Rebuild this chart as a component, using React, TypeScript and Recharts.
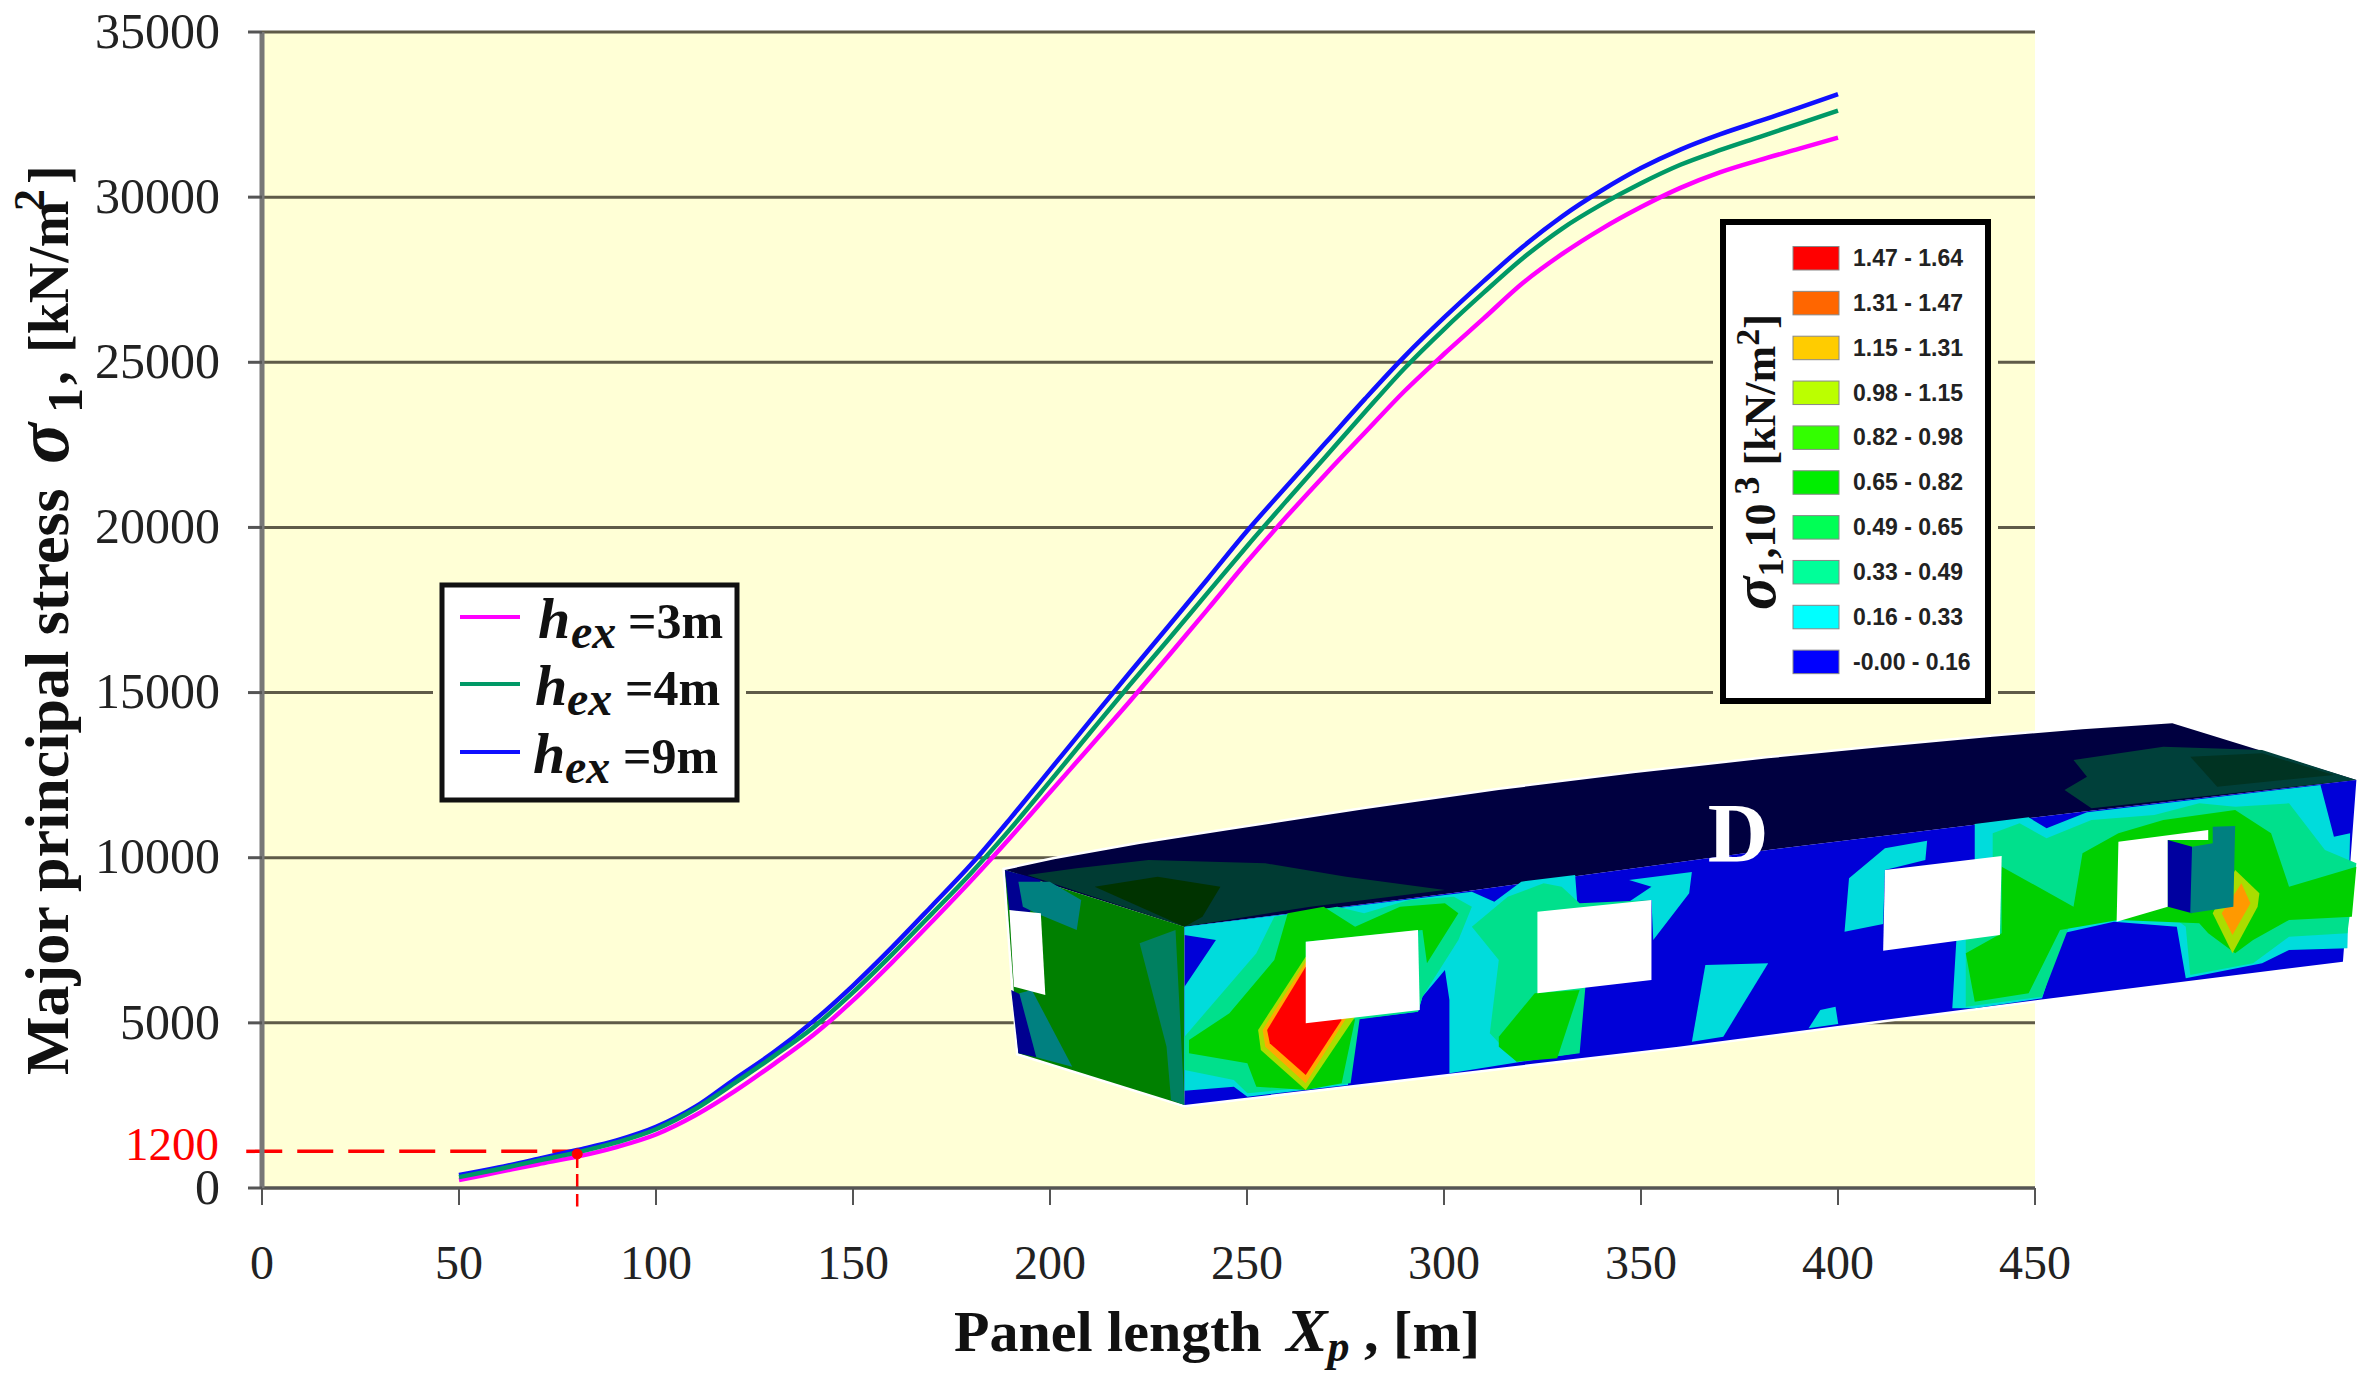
import { LineChart, Line, XAxis, YAxis, CartesianGrid, ReferenceLine, ReferenceDot } from 'recharts';

const panelLength = [50, 60, 70, 80, 90, 100, 110, 120, 130, 140, 150, 160, 170, 180, 190, 200, 210, 220, 230, 240, 250, 260, 270, 280, 290, 300, 310, 320, 330, 340, 350, 360, 370, 380, 390, 400];
const stressH3 = [240, 480, 720, 950, 1240, 1620, 2200, 2930, 3760, 4640, 5680, 6840, 8060, 9310, 10620, 11980, 13340, 14700, 16100, 17520, 18960, 20320, 21620, 22880, 24130, 25250, 26320, 27400, 28280, 29040, 29700, 30280, 30750, 31120, 31460, 31800];
const stressH4 = [330, 570, 830, 1080, 1380, 1780, 2390, 3180, 4000, 4870, 5920, 7080, 8300, 9540, 10880, 12310, 13760, 15200, 16600, 18020, 19430, 20800, 22150, 23500, 24820, 26000, 27100, 28150, 29050, 29780, 30420, 30980, 31420, 31820, 32220, 32620];
const stressH9 = [390, 620, 880, 1150, 1440, 1850, 2460, 3300, 4120, 5060, 6130, 7300, 8540, 9800, 11200, 12660, 14120, 15570, 17000, 18440, 19890, 21240, 22570, 23900, 25180, 26350, 27450, 28500, 29420, 30200, 30880, 31440, 31900, 32300, 32700, 33120];
const xTicks = [0, 50, 100, 150, 200, 250, 300, 350, 400, 450];
const yTicks = [0, 5000, 10000, 15000, 20000, 25000, 30000, 35000];

const contourRanges = ['1.47 - 1.64', '1.31 - 1.47', '1.15 - 1.31', '0.98 - 1.15', '0.82 - 0.98', '0.65 - 0.82', '0.49 - 0.65', '0.33 - 0.49', '0.16 - 0.33', '-0.00 - 0.16'];
const contourColors = ['#ff0000', '#ff6600', '#ffcc00', '#bbff00', '#33ff00', '#00ee00', '#00ff55', '#00ff99', '#00ffff', '#0000ff'];

const data = panelLength.map((x, i) => ({ x, h3: stressH3[i], h4: stressH4[i], h9: stressH9[i] }));

const MAGENTA = '#ff00ff';
const GREEN = '#009966';
const BLUE = '#1010ff';
const PLOT_BG = '#ffffd6';
const SERIF = '"Liberation Serif", serif';

// the 3D panel inset, points are in the crop space of the picture and get scaled in the group below
const topEdge = '50,510 105,478 200,432 300,390 450,328 600,270 750,220 900,175 1030,140 1150,110 1250,88 1350,70';
const panelSilhouette = `${topEdge} 1555,240 1540,785 1200,900 800,1040 250,1215 65,1060`;
const panelShapes: [string, string][] = [
  // top face
  ['#000040', `${topEdge} 1555,240 1250,335 900,450 560,575 250,680`],
  ['#003b33', '75,525 130,505 210,480 340,490 430,530 540,570 390,620 250,680'],
  ['#003300', '150,560 220,530 290,560 270,650 250,680'],
  ['#00403a', '1240,180 1340,140 1450,150 1555,240 1380,290 1260,325 1230,270 1255,230'],
  ['#003322', '1370,170 1450,160 1530,225 1400,260'],
  // left face
  ['#008000', '50,510 250,680 250,1215 65,1060'],
  ['#000090', '50,510 90,540 75,660 55,630'],
  ['#008080', '65,545 100,545 135,600 130,690 85,640 70,620'],
  ['#000090', '57,870 65,1060 85,1072 72,890'],
  ['#008080', '66,880 80,870 125,1100 85,1072'],
  ['#008060', '200,730 240,690 250,1215 235,1200 230,1040'],
  ['#ffffff', '55,630 90,640 95,885 60,860'],
  // front face
  ['#0000d8', '250,680 560,575 900,450 1250,335 1555,240 1540,785 1200,900 800,1040 250,1215'],
  ['#00dcdc', '250,680 570,575 595,605 625,545 685,525 690,700 685,1060 545,1120 545,900 540,810 515,890 510,935 440,958 432,1155 320,1190 305,1160 250,1172 250,860 285,720 250,705'],
  ['#00dcdc', '745,540 815,516 812,580 772,720 770,600 745,605 770,560'],
  ['#00dcdc', '830,795 900,790 850,1010 815,1025'],
  ['#00dcdc', '958,930 975,920 978,972 945,985'],
  ['#00dcdc', '985,695 990,535 1030,445 1077,422 1075,480 1030,510 1028,672'],
  ['#00dcdc', '1105,925 1110,700 1130,680 1130,372 1190,352 1210,385 1255,337 1515,255 1530,410 1548,400 1545,745 1480,750 1450,790 1365,835 1355,680 1285,665 1228,700 1205,895 1130,925'],
  ['#00e08c', '250,1010 330,760 350,650 420,620 450,640 500,600 550,590 570,620 555,720 515,890 510,935 445,958 435,1150 320,1180 305,1140 250,1110'],
  ['#00e08c', '590,1000 600,780 570,680 610,590 650,550 670,560 690,610 770,600 700,750 690,1060 620,1085'],
  ['#00e08c', '1120,920 1120,700 1150,660 1150,400 1180,370 1210,415 1260,360 1330,345 1380,310 1420,320 1480,310 1520,450 1555,490 1545,700 1480,710 1440,790 1370,825 1365,680 1350,650 1280,660 1235,680 1205,890'],
  ['#00d000', '255,1020 300,940 350,780 365,640 405,620 440,680 490,620 540,610 555,640 520,790 515,690 385,725 385,970 440,958 425,1150 385,1170 330,1160 320,1090 255,1060'],
  ['#00d000', '600,1010 640,880 690,870 665,1075 620,1085 600,1040'],
  ['#00d000', '1130,905 1120,760 1160,700 1160,500 1240,620 1250,460 1290,400 1340,360 1420,330 1460,400 1480,560 1555,500 1550,650 1480,660 1440,720 1420,760 1390,700 1380,670 1290,660 1225,690 1190,880'],
  // hot spots
  ['#aadd00', '332,990 385,770 440,950 385,1170 335,1050'],
  ['#ffaa00', '337,990 385,785 430,955 385,1150 340,1040'],
  ['#ff0000', '342,990 385,800 425,960 385,1125 345,1030'],
  ['#aadd00', '1395,640 1420,510 1447,580 1445,620 1417,760'],
  ['#ff9900', '1405,640 1427,550 1437,610 1417,705'],
  // windows
  ['#ffffff', '385,725 510,690 512,930 385,970'],
  ['#ffffff', '643,635 770,600 770,840 643,880'],
  ['#ffffff', '1030,510 1160,468 1158,705 1028,752'],
  ['#ffffff', '1290,425 1390,390 1390,420 1345,420 1345,620 1288,665'],
  ['#0000a0', '1345,420 1372,440 1372,640 1345,620'],
  ['#008080', '1372,440 1395,430 1395,380 1420,378 1418,620 1370,640'],
];

const Panel3D = () => (
  <g transform="translate(960,700) scale(0.898,0.3333)">
    <polygon points={panelSilhouette} fill="#fff" stroke="#fff" strokeWidth={5} vectorEffect="non-scaling-stroke" />
    {panelShapes.map(([fill, points], i) => (
      <polygon key={i} points={points} fill={fill} />
    ))}
  </g>
);

const legendRows = [
  { color: MAGENTA, lineY: 617, label: '=3m', hX: 538, base: 638, exX: 571, textX: 628 },
  { color: GREEN, lineY: 684, label: '=4m', hX: 535, base: 705, exX: 567, textX: 625 },
  { color: BLUE, lineY: 752, label: '=9m', hX: 533, base: 773, exX: 565, textX: 623 },
];

const Overlay = () => (
  <svg width={2368} height={1390} style={{ position: 'absolute', left: 0, top: 0, pointerEvents: 'none' }}>
    <text x={219} y={1160} textAnchor="end" fontFamily={SERIF} fontSize={47} fill="#ff0000">1200</text>

    {/* axis titles */}
    <text transform="translate(68,1075) rotate(-90)" fontFamily={SERIF} fontSize={62} fontWeight="bold" fill="#111">
      Major principal stress
      <tspan x={611} fontStyle="italic" fontSize={76}>σ</tspan>
      <tspan x={662} dy={14} fontSize={50}>1</tspan>
      <tspan x={690} dy={-14} fontSize={56}>,</tspan>
      <tspan x={722} fontSize={56}>[kN/m</tspan>
      <tspan x={864} dy={-24} fontSize={44}>2</tspan>
      <tspan x={891} dy={24} fontSize={56}>]</tspan>
    </text>
    <text x={954} y={1351} fontFamily={SERIF} fontSize={58} fontWeight="bold" fill="#111">
      Panel length{' '}
      <tspan dx={10} fontStyle="italic" fontSize={62}>X</tspan>
      <tspan fontStyle="italic" dy={10} fontSize={44}>p</tspan>
      <tspan dy={-10}> , [m]</tspan>
    </text>

    {/* series legend */}
    <rect x={440} y={583} width={299} height={219} fill="#fff" stroke={PLOT_BG} strokeWidth={14} />
    <rect x={442} y={585} width={295} height={215} fill="#fff" stroke="#111" strokeWidth={5} />
    {legendRows.map((r) => (
      <g key={r.label}>
        <line x1={460} x2={520} y1={r.lineY} y2={r.lineY} stroke={r.color} strokeWidth={4} />
        <text x={r.hX} y={r.base} fontFamily={SERIF} fontSize={58} fontWeight="bold" fontStyle="italic" fill="#111">h</text>
        <text x={r.exX} y={r.base + 10} fontFamily={SERIF} fontSize={48} fontWeight="bold" fontStyle="italic" fill="#111">ex</text>
        <text x={r.textX} y={r.base} fontFamily={SERIF} fontSize={50} fontWeight="bold" fill="#111">{r.label}</text>
      </g>
    ))}

    <Panel3D />
    <text x={1738} y={862} textAnchor="middle" fontFamily={SERIF} fontSize={84} fontWeight="bold" fill="#fff">D</text>

    {/* contour legend */}
    <rect x={1720} y={219} width={271} height={485} fill="#fff" stroke={PLOT_BG} strokeWidth={14} />
    <rect x={1723} y={222} width={265} height={479} fill="#fff" stroke="#000" strokeWidth={6} />
    {contourRanges.map((label, i) => (
      <g key={label}>
        <rect x={1793} y={246.5 + i * 44.85} width={46} height={23.5} fill={contourColors[i]} stroke="#888" strokeWidth={1} />
        <text x={1853} y={266 + i * 44.85} fontFamily='"Liberation Sans", sans-serif' fontSize={23} fontWeight="bold" fill="#222">{label}</text>
      </g>
    ))}
    <text transform="translate(1775,610) rotate(-90)" fontFamily={SERIF} fontSize={44} fontWeight="bold" fill="#111">
      <tspan fontStyle="italic" fontSize={62}>σ</tspan>
      <tspan dy={8} fontSize={36}>1</tspan>
      <tspan dy={-8}>,10</tspan>
      <tspan dy={-16} fontSize={36}> 3</tspan>
      <tspan dy={16}> [kN/m</tspan>
      <tspan dy={-16} fontSize={34}>2</tspan>
      <tspan dy={16}>]</tspan>
    </text>
  </svg>
);

const App = () => {
  return (
    <div style={{ position: 'absolute', left: 0, top: 0, width: 2368, height: 1390, background: '#fff' }}>
      <LineChart width={2368} height={1390} data={data} margin={{ top: 32, right: 333, bottom: 0, left: 0 }}>
        <CartesianGrid vertical={false} horizontalValues={yTicks} stroke="#5f5b48" strokeWidth={3} fill={PLOT_BG} />
        <XAxis
          type="number"
          dataKey="x"
          domain={[0, 450]}
          ticks={xTicks}
          height={202}
          tickSize={17}
          tickMargin={40}
          axisLine={{ stroke: '#555', strokeWidth: 3 }}
          tickLine={{ stroke: '#555', strokeWidth: 2 }}
          tick={{ fill: '#222', fontSize: 48, fontFamily: SERIF }}
          interval={0}
        />
        <YAxis
          type="number"
          domain={[0, 35000]}
          ticks={yTicks}
          width={262}
          tickSize={14}
          tickMargin={28}
          dy={-2}
          axisLine={{ stroke: '#777', strokeWidth: 5 }}
          tickLine={{ stroke: '#555', strokeWidth: 3 }}
          tick={{ fill: '#222', fontSize: 50, fontFamily: SERIF }}
          interval={0}
        />
        <ReferenceLine segment={[{ x: -4, y: 1110 }, { x: 80, y: 1110 }]} stroke="#ff0000" strokeWidth={3.5} strokeDasharray="36 15" ifOverflow="visible" />
        <ReferenceLine segment={[{ x: 80, y: 1030 }, { x: 80, y: -560 }]} stroke="#ff0000" strokeWidth={2.5} strokeDasharray="14 6" ifOverflow="visible" />
        <Line type="monotone" dataKey="h3" name="hex =3m" stroke={MAGENTA} strokeWidth={4.5} dot={false} isAnimationActive={false} />
        <Line type="monotone" dataKey="h9" name="hex =9m" stroke={BLUE} strokeWidth={4.5} dot={false} isAnimationActive={false} />
        <Line type="monotone" dataKey="h4" name="hex =4m" stroke={GREEN} strokeWidth={4.5} dot={false} isAnimationActive={false} />
        <ReferenceDot x={80} y={1030} r={5} fill="#ff0000" stroke="#ff0000" />
      </LineChart>
      <Overlay />
    </div>
  );
};

export default App;
